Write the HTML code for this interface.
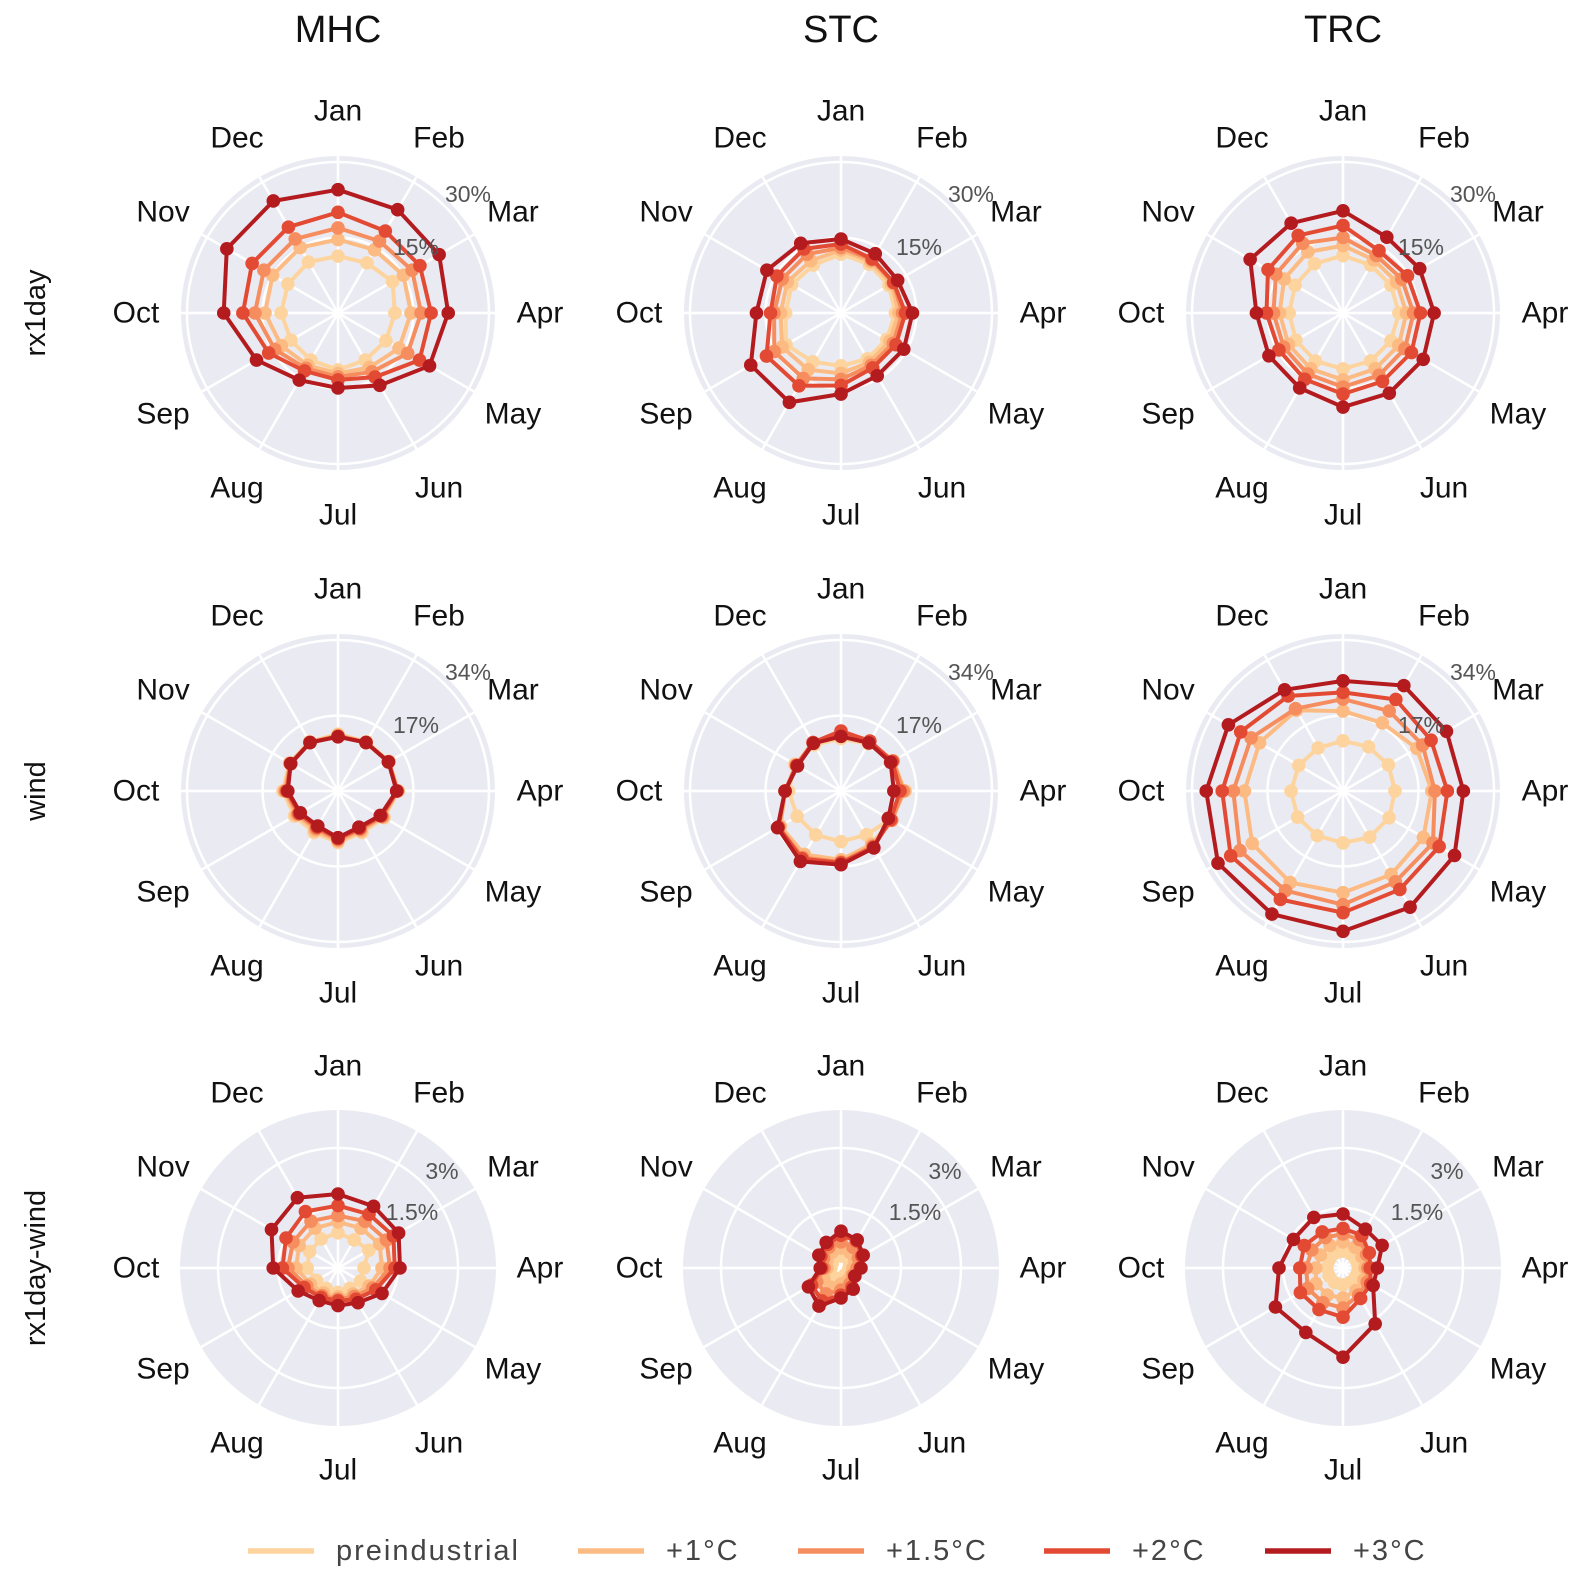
<!DOCTYPE html>
<html><head><meta charset="utf-8">
<style>
html,body{margin:0;padding:0;background:#fff;}
svg{display:block;font-family:"Liberation Sans",Arial,sans-serif;}
</style></head>
<body>
<svg id="fig" width="1590" height="1581" viewBox="0 0 1590 1581" xmlns="http://www.w3.org/2000/svg"></svg>
<script>
// ---- data ----
const months = ["Jan","Feb","Mar","Apr","May","Jun","Jul","Aug","Sep","Oct","Nov","Dec"];
const scenarios = ["preindustrial","+1°C","+1.5°C","+2°C","+3°C"];
const regions = ["MHC","STC","TRC"];
const variables = ["rx1day","wind","rx1day-wind"];
const tickValues = [[15,30],[17,34],[1.5,3]];
const tickLabels = [["15%","30%"],["17%","34%"],["1.5%","3%"]];

const mhcRx1day = [
 [11.3,11.5,12.5,11.3,11,10.8,11.3,10.8,10.8,11.3,11.5,11.7],
 [14.6,14.5,15,14.5,14,12.5,12,12,13,14.5,15,15],
 [16.9,16.5,17,16.5,16,13.5,12.7,12.7,14.5,16.5,17,17],
 [20,18.8,18.8,18.5,18.7,14.7,13.3,13.3,15.9,18.9,19.7,19.7],
 [24.5,23.7,23.2,21.9,21,16.6,14.9,15.4,18.7,22.7,25.5,25.7]];
const stcRx1day = [
 [11.7,11.2,11,10.8,10.5,10.5,10.5,11.2,12.6,11,11.3,11],
 [12.5,11.8,11.6,11.5,11.2,11.3,12,13,13.5,12,12.3,12],
 [13,12.2,12,12.2,12,12,13.2,15,15.3,13.3,13.5,13.5],
 [13.7,12.4,12.1,12.8,12.6,12.6,14.4,16.7,17.1,14,14.7,14.7],
 [14.7,13.6,13,14.2,14.4,14.4,16.1,20.5,20.7,16.8,17,16]];
const trcRx1day = [
 [11.4,11,11,11.1,11,11,11.1,11,10.8,10.7,11,11.3],
 [13.4,12.2,12.3,12.6,12.8,12.8,13.3,12.8,12.5,12.6,13.5,14],
 [15,13.2,13.5,14,14.2,14.3,14.7,14,13.6,13.8,15.4,16],
 [17.4,14.3,14.8,15.4,15.7,15.7,16.1,15.2,14.7,15.2,17.2,17.8],
 [20.3,17.4,17.6,18.1,18.4,18.4,18.7,17.2,17,17.2,21.3,20.6]];
const mhcWind = [
 [12.8,12.8,13.3,13.6,12,10.8,11.6,10.8,11.3,12.4,12.6,12.8],
 [12.6,12.7,13.2,13.5,11.7,10.4,11.3,10.3,10.8,12.1,12.5,12.7],
 [12.4,12.6,13.2,13.4,11.5,10,11,9.8,10.4,11.8,12.4,12.6],
 [12.3,12.6,13.1,13.3,11.2,9.7,10.7,9.4,10.1,11.5,12.3,12.6],
 [12.2,12.6,13.1,13.2,11,9.4,10.5,9.1,9.8,11.3,12.3,12.6]];
const stcWind = [
 [11.8,12.3,13.5,14.5,12.8,11.4,11.4,11.4,11.4,11.8,12,12],
 [12.8,12.8,13.6,14.3,13.2,13.8,15.5,16.5,15.8,12.5,11.8,12.5],
 [13.2,12.9,13.5,14,13.2,14.3,16,17.3,16.2,12.6,11.6,12.6],
 [13.5,13,13.3,13.3,12.9,14.6,16.2,17.6,16.3,12.6,11.5,12.6],
 [12.3,12.5,12.9,11.9,12.3,14.8,16.6,18.3,16.5,12.6,11.3,12.4]];
const trcWind = [
 [11.3,11.5,11.8,11.7,12,12,11.7,11.6,11.8,11.7,11.5,11.2],
 [18,17.7,19.2,20,20.9,21.7,22.9,23.8,23.6,22.2,21.7,21],
 [20.7,20.8,20.7,20.7,23.4,23.6,25.6,25.9,26.8,24.7,23.9,21.4],
 [22.2,23.8,22.9,23.5,25,25.6,27.4,28.2,29.2,27.2,26.6,24.7],
 [24.8,27.4,26.9,27.1,29,30.2,31.6,32,32.5,30.8,29.8,26.3]];
const mhcRxWind = [
 [0.88,0.81,0.89,0.65,0.65,0.59,0.61,0.59,0.62,0.77,0.82,0.84],
 [1.15,1.15,1.2,1.1,0.9,0.75,0.72,0.72,0.8,1.05,1.12,1.15],
 [1.31,1.35,1.4,1.3,1.0,0.82,0.78,0.8,0.9,1.25,1.3,1.35],
 [1.56,1.55,1.6,1.42,1.09,0.9,0.82,0.85,0.98,1.39,1.5,1.63],
 [1.85,1.78,1.75,1.55,1.27,1.0,0.94,0.94,1.15,1.62,1.92,2.03]];
const stcRxWind = [
 [0.3,0.3,0.25,0.2,0.2,0.2,0.25,0.3,0.3,0.25,0.25,0.3],
 [0.5,0.45,0.4,0.3,0.3,0.35,0.4,0.55,0.5,0.35,0.4,0.45],
 [0.65,0.6,0.5,0.4,0.35,0.45,0.55,0.75,0.7,0.42,0.5,0.6],
 [0.82,0.78,0.6,0.48,0.4,0.55,0.68,0.95,0.85,0.48,0.58,0.68],
 [0.92,0.81,0.64,0.5,0.4,0.61,0.75,1.1,0.94,0.52,0.64,0.74]];
const trcRxWind = [
 [0.42,0.4,0.38,0.38,0.38,0.4,0.42,0.42,0.4,0.4,0.4,0.42],
 [0.65,0.6,0.55,0.55,0.6,0.65,0.75,0.78,0.78,0.68,0.65,0.65],
 [0.85,0.82,0.68,0.62,0.7,0.78,1.0,1.0,1.02,0.92,0.9,0.88],
 [0.99,0.94,0.76,0.68,0.8,0.88,1.23,1.2,1.23,1.08,1.12,1.04],
 [1.35,1.12,1.13,0.86,0.87,1.61,2.23,1.86,1.95,1.6,1.43,1.46]];

const panels = [[mhcRx1day,stcRx1day,trcRx1day],[mhcWind,stcWind,trcWind],[mhcRxWind,stcRxWind,trcRxWind]];

// ---- layout ----
const colors = ["#fdd49e","#fdbb84","#f68d5f","#e34a33","#b31b1f"];
const colX = [338,841,1343];
const rowY = [313,791,1268];
const NS = "http://www.w3.org/2000/svg";
const svg = document.getElementById("fig");
function mk(tag, attrs, parent){
  const e = document.createElementNS(NS, tag);
  for (const k in attrs) e.setAttribute(k, attrs[k]);
  (parent||svg).appendChild(e);
  return e;
}
function pt(cx, cy, r, i){
  const a = i*Math.PI/6;
  return [cx + r*Math.sin(a), cy - r*Math.cos(a)];
}

regions.forEach((t,c)=>{
  const e = mk("text",{x:colX[c],y:30,"text-anchor":"middle","dominant-baseline":"central","font-size":38,fill:"#111"});
  e.textContent = t;
  
  
});
variables.forEach((v,r)=>{
  const e = mk("text",{x:36,y:rowY[r],"text-anchor":"middle","dominant-baseline":"central","font-size":29,fill:"#111",transform:`rotate(-90 36 ${rowY[r]})`});
  e.textContent = v;
  
  
});

for (let r=0;r<3;r++){
  for (let c=0;c<3;c++){
    const cx = colX[c], cy = rowY[r];
    const g = mk("g",{});
    
    
    const diskR = r<2 ? 157 : 158;
    const tickR = r<2 ? [75.5,151] : [60,120];
    const scale = tickR[1]/tickValues[r][1];
    const disk = mk("circle",{cx:cx,cy:cy,r:diskR,fill:"#eaeaf2"},g);
    
    
    for (let i=0;i<12;i++){
      const p = pt(cx,cy,diskR,i);
      const l = mk("line",{x1:cx,y1:cy,x2:p[0],y2:p[1],stroke:"#fff","stroke-width":2.5},g);
      
      
    }
    tickValues[r].forEach((tv,k)=>{
      const ring = mk("circle",{cx:cx,cy:cy,r:tv*scale,fill:"none",stroke:"#fff","stroke-width":2.5},g);
      
      
    });
    const data = panels[r][c];
    data.forEach((series,s)=>{
      const sg = mk("g",{},g);
      
      
      const pts = series.map((v,i)=>pt(cx,cy,v*scale,i));
      const poly = mk("polygon",{points:pts.map(p=>p[0].toFixed(1)+","+p[1].toFixed(1)).join(" "),fill:"none",stroke:colors[s],"stroke-width":4,"stroke-linejoin":"round"},sg);
      
      
      pts.forEach((p,i)=>{
        const m = mk("circle",{cx:p[0],cy:p[1],r:6.8,fill:colors[s]},sg);
        
        
      });
    });
    const off = r<2 ? [[78,-66],[130,-119]] : [[74,-56],[104,-97]];
    tickLabels[r].forEach((tl,k)=>{
      const t = mk("text",{x:cx+off[k][0],y:cy+off[k][1],"text-anchor":"middle","dominant-baseline":"central","font-size":23,fill:"#555"},g);
      t.textContent = tl;
      
      
    });
    months.forEach((m,i)=>{
      const p = pt(cx,cy,202,i);
      const t = mk("text",{x:p[0],y:p[1],"text-anchor":"middle","dominant-baseline":"central","font-size":30,fill:"#111"},g);
      t.textContent = m;
      
      
    });
  }
}

const legend = mk("g",{});


const legLineX = [248,578,798,1044,1265];
scenarios.forEach((s,i)=>{
  const eg = mk("g",{},legend);
  
  
  mk("line",{x1:legLineX[i],y1:1551,x2:legLineX[i]+66,y2:1551,stroke:colors[i],"stroke-width":5.5},eg);
  const t = mk("text",{x:legLineX[i]+88,y:1551,"dominant-baseline":"central","font-size":29,"letter-spacing":2,fill:"#444"},eg);
  t.textContent = s;
});
</script>
</body></html>
